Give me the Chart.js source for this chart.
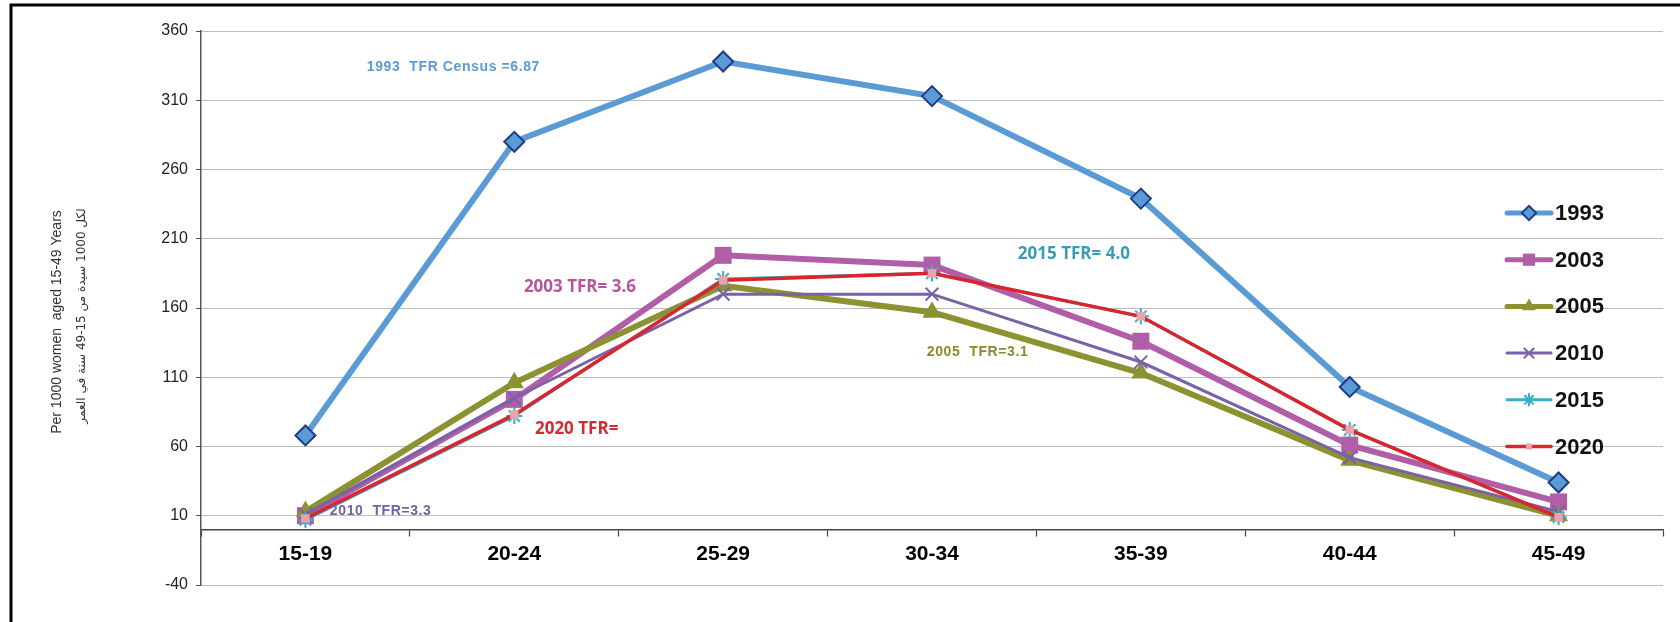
<!DOCTYPE html>
<html>
<head>
<meta charset="utf-8">
<script src="https://cdn.jsdelivr.net/npm/chart.js@4.4.1/dist/chart.umd.min.js"></script>
<style>
  body { margin: 0; background: #fff; }
  #wrap { width: 1680px; height: 622px; }
</style>
</head>
<body>
<div id="wrap"><canvas id="chart" width="1680" height="622"></canvas></div>
<script>
// ================= Data =================
const ageGroups = ['15-19', '20-24', '25-29', '30-34', '35-39', '40-44', '45-49'];
const yTicks = [-40, 10, 60, 110, 160, 210, 260, 310, 360];
const seriesNames = ['1993', '2003', '2005', '2010', '2015', '2020'];
const s1993 = [68, 280, 338, 313, 239, 103, 34];
const s2003 = [10, 94, 198, 191, 136, 61, 20];
const s2005 = [13, 106, 176, 157, 113, 50, 10];
const s2010 = [11, 95, 170, 170, 121, 52, 13];
const s2015 = [7, 82, 181, 185, 154, 72, 9];
const s2020 = [8, 83, 180, 185, 154, 72, 9];
const axisTitle = ['Per 1000 women  aged 15-49 Years', 'لكل 1000 سيدة من 15-49 سنة في العمر'];

// TFR notes: [category index, value] anchor on the scales
const notes = [
  { text: '1993  TFR Census =6.87', at: [0.294, 334], color: '#5b9bd5', font: 'bold 14px "Liberation Sans", Arial', sp: '0.6px' },
  { text: '2003 TFR= 3.6', at: [1.046, 175], color: '#b5559f', font: '700 17px "Open Sans"', sp: '0px' },
  { text: '2020 TFR=', at: [1.099, 72.6], color: '#d42a32', font: '700 17px "Open Sans"', sp: '0px' },
  { text: '2015 TFR= 4.0', at: [3.411, 199], color: '#3b9bb5', font: '700 17px "Open Sans"', sp: '0px' },
  { text: '2005  TFR=3.1', at: [2.975, 128], color: '#8b8b2c', font: 'bold 14px "Liberation Sans", Arial', sp: '0.6px' },
  { text: '2010  TFR=3.3', at: [0.117, 13.5], color: '#7560a0', font: 'bold 14px "Liberation Sans", Arial', sp: '0.6px' },
];

const FONT = '"Liberation Sans", Arial, sans-serif';

// ================= Plugins =================
const framePlugin = {
  id: 'frame',
  beforeDraw(chart) {
    const ctx = chart.ctx;
    ctx.save();
    ctx.fillStyle = '#fff';
    ctx.fillRect(0, 0, chart.width, chart.height);
    ctx.strokeStyle = '#000';
    ctx.lineWidth = 3;
    ctx.beginPath();
    ctx.moveTo(chart.width, 5);
    ctx.lineTo(11, 5);
    ctx.lineTo(11, chart.height);
    ctx.stroke();
    ctx.restore();
  }
};

const extrasPlugin = {
  id: 'extras',
  afterDatasetsDraw(chart) {
    const ctx = chart.ctx;
    const xs = chart.scales.x, ys = chart.scales.y;
    const area = chart.chartArea;

    // axis title (two lines, rotated)
    ctx.save();
    ctx.fillStyle = '#333';
    ctx.textAlign = 'center';
    ctx.textBaseline = 'middle';
    ctx.translate(area.left - 144, 322);
    ctx.rotate(-Math.PI / 2);
    ctx.font = '14px ' + FONT;
    ctx.fillText(axisTitle[0], 0, 0);
    ctx.restore();
    ctx.save();
    ctx.fillStyle = '#333';
    ctx.textAlign = 'center';
    ctx.textBaseline = 'middle';
    ctx.translate(area.left - 119, 316);
    ctx.rotate(-Math.PI / 2);
    ctx.font = '12px "DejaVu Sans", sans-serif';
    ctx.fillText(axisTitle[1], 0, 0);
    ctx.restore();

    // notes
    notes.forEach(n => {
      ctx.save();
      ctx.font = n.font;
      ctx.fillStyle = n.color;
      ctx.textAlign = 'left';
      ctx.textBaseline = 'middle';
      if ('letterSpacing' in ctx) ctx.letterSpacing = n.sp;
      ctx.fillText(n.text, xs.getPixelForValue(n.at[0]), ys.getPixelForValue(n.at[1]));
      ctx.restore();
    });

    // legend
    const lx = area.right - 156, tx = area.right - 108;
    chart.data.datasets.forEach((ds, i) => {
      const y = area.top + 182 + i * 46.7;
      ctx.save();
      ctx.strokeStyle = ds.borderColor;
      ctx.lineWidth = Math.min(ds.borderWidth, 5);
      ctx.lineCap = 'round';
      ctx.beginPath();
      ctx.moveTo(lx, y);
      ctx.lineTo(lx + 44, y);
      ctx.stroke();
      ctx.fillStyle = ds.pointBackgroundColor;
      ctx.strokeStyle = ds.pointBorderColor;
      ctx.lineWidth = ds.pointBorderWidth;
      Chart.helpers.drawPoint(ctx, {
        pointStyle: ds.pointStyle, rotation: 0,
        radius: ds.pointRadius * 0.72, borderWidth: ds.pointBorderWidth
      }, lx + 22, y);
      ctx.fillStyle = '#111';
      ctx.font = 'bold 22px ' + FONT;
      ctx.textAlign = 'left';
      ctx.textBaseline = 'middle';
      ctx.fillText(ds.label, tx, y + 1);
      ctx.restore();
    });
  }
};

// ================= Chart =================
const styles = [
  { color: '#5b9bd5', width: 6, point: 'rectRot', r: 10, fill: '#5b9bd5', edge: '#1f3c88', bw: 2 },
  { color: '#b15ea8', width: 6, point: 'rect', r: 12, fill: '#b15ea8', edge: '#b15ea8', bw: 0 },
  { color: '#8c9132', width: 6, point: 'triangle', r: 11, fill: '#8c9132', edge: '#8c9132', bw: 0 },
  { color: '#7a62a8', width: 3, point: 'crossRot', r: 9, fill: '#7a62a8', edge: '#7a62a8', bw: 2 },
  { color: '#3aadc8', width: 3, point: 'star', r: 8, fill: '#3aadc8', edge: '#3aadc8', bw: 2 },
  { color: '#d9252d', width: 3.5, point: 'rect', r: 6, fill: '#e8a4ab', edge: '#e8a4ab', bw: 0 },
];
const values = [s1993, s2003, s2005, s2010, s2015, s2020];

const datasets = seriesNames.map((name, i) => ({
  label: name,
  data: values[i],
  borderColor: styles[i].color,
  backgroundColor: styles[i].color,
  borderWidth: styles[i].width,
  pointStyle: styles[i].point,
  pointRadius: styles[i].r,
  pointBackgroundColor: styles[i].fill,
  pointBorderColor: styles[i].edge,
  pointBorderWidth: styles[i].bw,
  tension: 0,
  clip: false,
  order: seriesNames.length - i
}));

new Chart(document.getElementById('chart').getContext('2d'), {
  type: 'line',
  data: { labels: ageGroups, datasets },
  options: {
    responsive: false,
    animation: false,
    layout: { padding: { left: 100, top: 31, right: 17, bottom: 37 } },
    plugins: { legend: { display: false }, tooltip: { enabled: false } },
    scales: {
      x: {
        type: 'category',
        position: { y: 0 },
        offset: true,
        grid: { offset: true, drawOnChartArea: false, drawTicks: true, tickLength: 6, tickColor: '#444', tickWidth: 1.2 },
        border: { display: true, color: '#444', width: 1.5 },
        ticks: { color: '#000', padding: 6, maxRotation: 0, font: { family: FONT, size: 21, weight: 'bold' } }
      },
      y: {
        min: -40,
        max: 360,
        afterBuildTicks: s => { s.ticks = yTicks.map(v => ({ value: v })); },
        afterFit: s => { s.width = 101; },
        grid: { color: '#7a7a7a', lineWidth: 1, tickLength: 5, tickColor: '#555', tickBorderDash: [] },
        border: { display: true, color: '#555', width: 1.5, dash: [1, 1] },
        ticks: { color: '#222', padding: 8, font: { family: FONT, size: 16 } }
      }
    }
  },
  plugins: [framePlugin, extrasPlugin]
});
</script>
</body>
</html>
